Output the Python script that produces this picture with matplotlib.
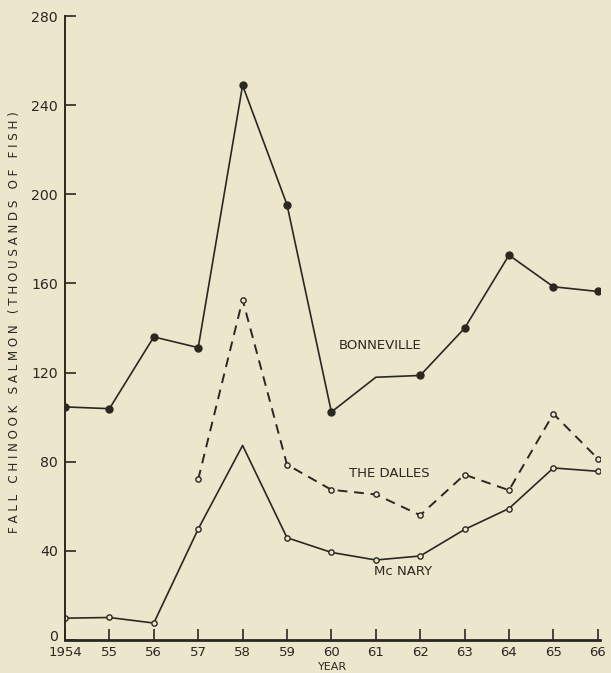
import numpy as np
import matplotlib.pyplot as plt
from matplotlib.transforms import ScaledTranslation

# anos y conteos (miles de peces)
years = np.arange(1954, 1967)
bonneville = [104.6, 103.8, 136, 131.2, 248.9, 195.3, 102.3, 117.9, 118.7, 139.9, 172.7, 158.5, 156.4]
dalles_years = np.arange(1957, 1967)
the_dalles = [72.1, 152.7, 78.7, 67.4, 65.3, 56.0, 74.2, 67.2, 101.5, 81.4]
mcnary = [9.8, 10.1, 7.6, 49.8, 87.3, 45.9, 39.3, 35.9, 37.7, 49.6, 59.0, 77.2, 75.7]

xticklabels = ["1954", "55", "56", "57", "58", "59", "60", "61", "62", "63", "64", "65", "66"]
yticks = [0, 40, 80, 120, 160, 200, 240, 280]

bg = "#ebe6cc"
ink = "#2b2822"

fig = plt.figure(figsize=(6.11, 6.73), dpi=100, facecolor=bg)
ax = fig.add_axes([0.1064, 1 - 640 / 673, 0.8756, 624 / 673])
ax.set_facecolor(bg)

# Bonneville: linea continua, puntos llenos (sin marcador en 1961)
mk_b = [i for i in range(len(years)) if years[i] != 1961]
ax.plot(years, bonneville, color=ink, lw=1.2, marker="o", ms=5,
        markevery=mk_b, mfc=ink, mec=ink)

# The Dalles: linea a trazos, circulos abiertos
ax.plot(dalles_years, the_dalles, color=ink, lw=1.4, ls=(0, (5, 3.5)),
        marker="o", ms=3.8, mfc=bg, mec=ink, mew=1.0)

# McNary: linea continua, circulos abiertos (sin marcador en 1958)
mk_m = [i for i in range(len(years)) if years[i] != 1958]
ax.plot(years, mcnary, color=ink, lw=1.2, marker="o", ms=3.8,
        markevery=mk_m, mfc=bg, mec=ink, mew=1.0)

ax.text(1960.17, 132.1, "BONNEVILLE", color=ink, fontsize=9.5, va="center", ha="left")
ax.text(1960.39, 74.9, "THE DALLES", color=ink, fontsize=9.5, va="center", ha="left")
ax.text(1960.97, 30.6, "Mc NARY", color=ink, fontsize=9.5, va="center", ha="left")

ax.set_xlim(1954, 1966.05)
ax.set_ylim(0, 280)
ax.set_xticks(years)
ax.set_xticklabels(xticklabels)
ax.set_yticks(yticks)
ax.tick_params(axis="both", direction="in", colors=ink, width=1.2)
ax.tick_params(axis="x", length=8, pad=4, labelsize=9.5)
ax.tick_params(axis="y", length=8, pad=5, labelsize=10.2)

# subir un poco el "0" para que no choque con "1954"
lab0 = ax.get_yticklabels()[0]
lab0.set_transform(lab0.get_transform() + ScaledTranslation(0, 3 / 72, fig.dpi_scale_trans))

for s in ["top", "right"]:
    ax.spines[s].set_visible(False)
ax.spines["left"].set_color(ink)
ax.spines["left"].set_linewidth(1.4)
ax.spines["bottom"].set_color(ink)
ax.spines["bottom"].set_linewidth(2.0)

# YEAR pegado al borde inferior
fig.text(0.5 * (0.1064 + 0.982), 0.5 / 673, "YEAR", color=ink, fontsize=8,
         ha="center", va="bottom")

words = ["FALL", "CHINOOK", "SALMON", "(THOUSANDS", "OF", "FISH)"]
ylab = "   ".join(" ".join(w) for w in words)
fig.text(15 / 611, 1 - 322 / 673, ylab, rotation=90, color=ink, fontsize=8.6,
         ha="center", va="center")

fig.savefig("out.png", dpi=100, facecolor=bg)
